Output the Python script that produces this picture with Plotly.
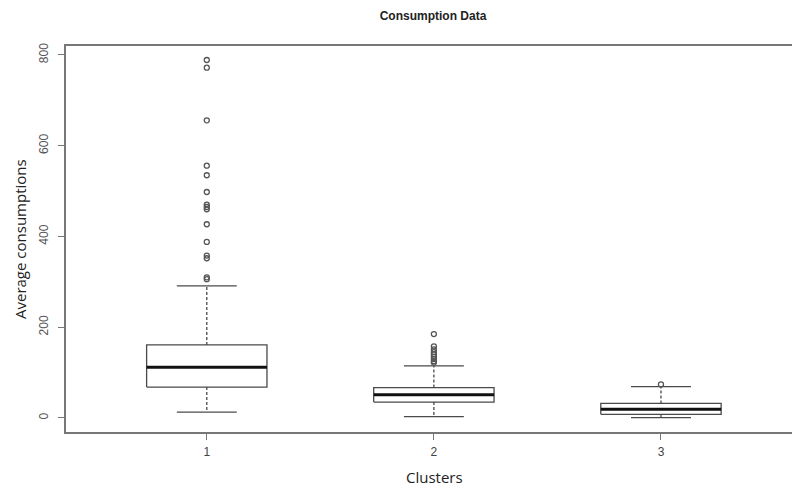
import plotly.graph_objects as go

# ---- data ----
clusters = [1, 2, 3]
tick_labels = ["1", "2", "3"]
q1 = [68, 35, 8]
median = [112, 51, 19]
q3 = [161, 67, 32]
lower_whisker = [13, 3, 1]
upper_whisker = [291, 115, 69]
outliers = [
    [789, 772, 656, 556, 535, 498, 470, 465, 460, 427, 388, 358, 352, 310, 306],
    [185, 158, 151, 145, 140, 135, 130, 125, 122],
    [74],
]
y_ticks = [0, 200, 400, 600, 800]

BOX_HALF = 0.265
CAP_HALF = 0.132
LINE_COL = "#4a4a4a"

fig = go.Figure()

for i, c in enumerate(clusters):
    # whiskers (dashed)
    fig.add_trace(go.Scatter(
        x=[c, c, None, c, c],
        y=[q3[i], upper_whisker[i], None, q1[i], lower_whisker[i]],
        mode="lines", line=dict(color=LINE_COL, width=1.3, dash="3px,2px"),
        hoverinfo="skip", showlegend=False))
    # caps
    fig.add_trace(go.Scatter(
        x=[c - CAP_HALF, c + CAP_HALF, None, c - CAP_HALF, c + CAP_HALF],
        y=[upper_whisker[i], upper_whisker[i], None, lower_whisker[i], lower_whisker[i]],
        mode="lines", line=dict(color=LINE_COL, width=1.3),
        hoverinfo="skip", showlegend=False))
    # box
    fig.add_trace(go.Scatter(
        x=[c - BOX_HALF, c + BOX_HALF, c + BOX_HALF, c - BOX_HALF, c - BOX_HALF],
        y=[q1[i], q1[i], q3[i], q3[i], q1[i]],
        mode="lines", fill="toself", fillcolor="white",
        line=dict(color=LINE_COL, width=1.3),
        hoverinfo="skip", showlegend=False))
    # median
    fig.add_trace(go.Scatter(
        x=[c - BOX_HALF, c + BOX_HALF],
        y=[median[i], median[i]],
        mode="lines", line=dict(color="#111111", width=3),
        hoverinfo="skip", showlegend=False))
    # outliers
    fig.add_trace(go.Scatter(
        x=[c] * len(outliers[i]), y=outliers[i],
        mode="markers",
        marker=dict(symbol="circle-open", size=5, color="#555555", line=dict(width=1.3)),
        hoverinfo="skip", showlegend=False))

fig.update_layout(
    width=792, height=487,
    margin=dict(l=66, r=0, t=46, b=55),
    paper_bgcolor="white", plot_bgcolor="white",
    font=dict(family="Liberation Sans, Arial", color="#444444", size=11),
    title=dict(text="<b>Consumption Data</b>", x=433 / 792, xanchor="center",
               y=1 - 16 / 487, yanchor="middle",
               font=dict(family="Liberation Sans, Arial", size=12, color="#222222")),
    xaxis=dict(
        range=[0.38, 3.577], tickmode="array", tickvals=clusters, ticktext=tick_labels,
        showline=True, linecolor="#777777", linewidth=1.5, mirror=True,
        ticks="outside", ticklen=6, tickcolor="#777777", tickwidth=1,
        ticklabelstandoff=2,
        showgrid=False, zeroline=False, tickfont=dict(size=12, color="#444444"),
    ),
    yaxis=dict(
        range=[-30.9, 819.8], tickmode="array", tickvals=y_ticks,
        ticktext=[str(v) for v in y_ticks], tickangle=-90,
        showline=True, linecolor="#777777", linewidth=1.5, mirror=False,
        ticks="outside", ticklen=6, tickcolor="#777777", tickwidth=1,
        ticklabelstandoff=5,
        showgrid=False, zeroline=False, tickfont=dict(size=12, color="#555555"),
    ),
    annotations=[
        dict(text="Average consumptions", xref="paper", yref="paper",
             x=-46 / 726, y=0.5, xanchor="center", yanchor="middle",
             textangle=-90, showarrow=False,
             font=dict(family="Open Sans, Noto Sans", size=15, color="#222222")),
        dict(text="Clusters", xref="paper", yref="paper",
             x=(434 - 66) / 726, y=-(477 - 432) / 386, xanchor="center", yanchor="middle",
             showarrow=False,
             font=dict(family="Open Sans, Noto Sans", size=15, color="#222222")),
    ],
)

fig.write_html("out.html")
